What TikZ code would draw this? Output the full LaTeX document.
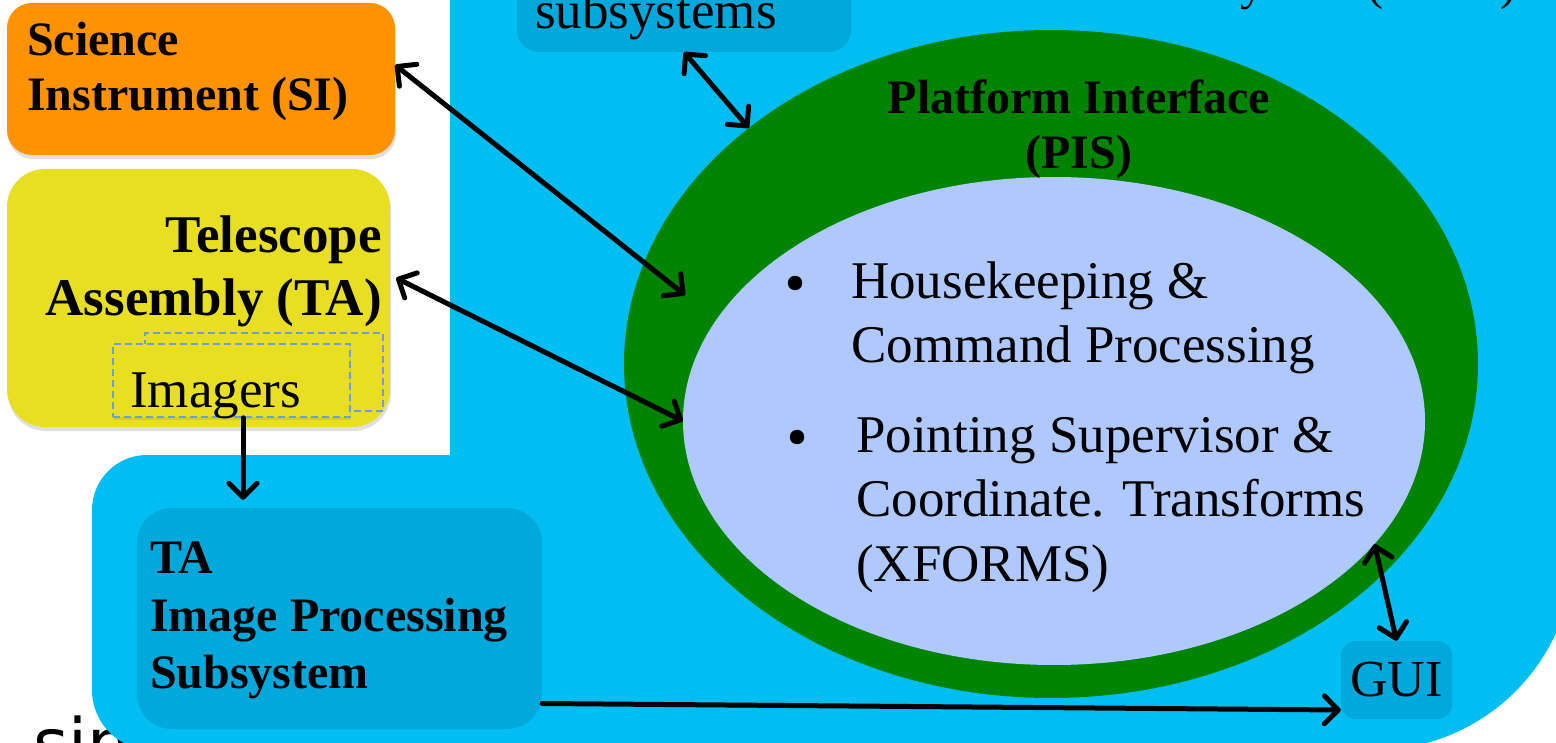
\documentclass[tikz,border=0pt]{standalone}
\usepackage{fontspec}
\setmainfont{Liberation Serif}
\newfontfamily\sansfnt{DejaVu Sans}
\usetikzlibrary{arrows.meta,shapes.geometric,shadows}
\definecolor{skyblue}{RGB}{0,190,242}
\definecolor{boxblue}{RGB}{0,168,219}
\definecolor{pisgreen}{RGB}{0,132,0}
\definecolor{lightblue}{RGB}{175,201,255}
\definecolor{siorange}{RGB}{255,146,0}
\definecolor{tayellow}{RGB}{232,223,34}
\definecolor{dashblue}{RGB}{110,155,230}
\begin{document}
\begin{tikzpicture}[x=1pt,y=-1pt,
  sbox/.style={fill=boxblue, draw=none, inner sep=0pt, rectangle},
  cbox/.style={draw=none, inner sep=0pt, rectangle,
    drop shadow={shadow xshift=1pt, shadow yshift=-4pt, opacity=0.25}},
  imgbox/.style={fill=tayellow, draw=dashblue, line width=1.6pt,
    dash pattern=on 7pt off 4pt, inner sep=0pt, rectangle},
  lbl/.style={inner sep=0pt, text=black},
  bul/.style={circle, fill=black, draw=black, inner sep=0pt, minimum size=14pt},
  link/.style={line width=5pt, draw=black, line cap=round},
  biarrow/.style={link, {Straight Barb[length=14pt,width=28pt,round]}-{Straight Barb[length=14pt,width=28pt,round]}},
  onearrow/.style={link, -{Straight Barb[length=14pt,width=28pt,round]}},
]
\useasboundingbox (0,0) rectangle (1556,743);
\clip (0,0) rectangle (1556,743);
\fill[white] (0,0) rectangle (1556,743);

% partly hidden word at the bottom left
\node[lbl, anchor=base west, font=\sansfnt\fontsize{68}{68}\selectfont] (sin) at (33,767) {sin};

% system background
\fill[skyblue] (450,-60) -- (1574,-60) -- (1574,550)
  arc[start angle=0,end angle=90,radius=200] -- (152,750)
  arc[start angle=90,end angle=180,radius=60] -- (92,510)
  arc[start angle=180,end angle=270,radius=55] -- (450,455) -- cycle;

\node[lbl, anchor=base east, font=\fontsize{48}{48}\selectfont] (pccs) at (1517,0) {Control Coordinate System (PCCS)};

% subsystems box
\node[sbox, rounded corners=22pt, minimum width=334pt, minimum height=92pt] (subs) at (684,6) {};
\node[lbl, anchor=base west, font=\fontsize{53}{53}\selectfont] (substext) at (535,29) {subsystems};

% PIS ellipses
\node[ellipse, fill=pisgreen, inner sep=0pt, minimum width=854pt, minimum height=668pt] (pis) at (1051,364) {};
\node[ellipse, fill=lightblue, inner sep=0pt, minimum width=742pt, minimum height=488pt] (inner) at (1054,421) {};
\node[lbl, anchor=north, align=center, font=\bfseries\fontsize{48}{55}\selectfont] (pistext) at (1079,80) {Platform Interface\\(PIS)};

\node[bul] (b1) at (795,283) {};
\node[lbl, anchor=north west, align=left, font=\fontsize{53}{64}\selectfont] (item1) at (851,262) {Housekeeping \&\\Command Processing};
\node[bul] (b2) at (797,437) {};
\node[lbl, anchor=north west, align=left, font=\fontsize{53}{64.5}\selectfont] (item2) at (856,417) {Pointing Supervisor \&\\Coordinate. Transforms\\(XFORMS)};

% left boxes
\node[cbox, fill=siorange, rounded corners=25pt, minimum width=388pt, minimum height=152pt] (si) at (201,79) {};
\node[lbl, anchor=north west, align=left, font=\bfseries\fontsize{48}{55}\selectfont] (sitext) at (27,22) {Science\\Instrument (SI)};

\node[cbox, fill=tayellow, rounded corners=38pt, minimum width=383pt, minimum height=258pt] (ta) at (198.5,298) {};
\node[lbl, anchor=north east, align=right, font=\bfseries\fontsize{53}{63}\selectfont] (tatext) at (382,216) {Telescope\\Assembly (TA)};

\node[imgbox, minimum width=238pt, minimum height=78pt] (imgback) at (264,372) {};
\node[imgbox, minimum width=237pt, minimum height=73pt,
  drop shadow={shadow xshift=1pt, shadow yshift=-3pt, opacity=0.2}] (img) at (231.5,380.5) {};
\node[lbl, anchor=base west, font=\fontsize{53}{53}\selectfont] (imgtext) at (130,407) {Imagers};

% lower boxes
\node[sbox, rounded corners=35pt, minimum width=405pt, minimum height=221pt] (tip) at (339.5,618.5) {};
\node[lbl, anchor=north west, align=left, font=\bfseries\fontsize{48}{57.5}\selectfont] (tiptext) at (150,542) {TA\\Image Processing\\Subsystem};

\node[sbox, rounded corners=15pt, minimum width=111pt, minimum height=78pt, font=\fontsize{52}{52}\selectfont] (gui) at (1396.5,680) {GUI};

% connectors
\coordinate (siend) at (685,295);
\coordinate (ix) at (243,0);
\draw[biarrow] ([yshift=14pt]si.east) -- (siend);
\draw[biarrow] ([shift={(6pt,20pt)}]ta.east) -- (inner.west);
\draw[biarrow] (subs.south) -- (pis.142);
\draw[biarrow] (inner.-21) -- (gui.north);
\draw[onearrow, shorten >=8pt] (img.south -| ix) -- (tip.north -| ix);
\draw[onearrow] ([yshift=-85pt]tip.east) -- ([yshift=-30pt]gui.west);
\end{tikzpicture}
\end{document}
